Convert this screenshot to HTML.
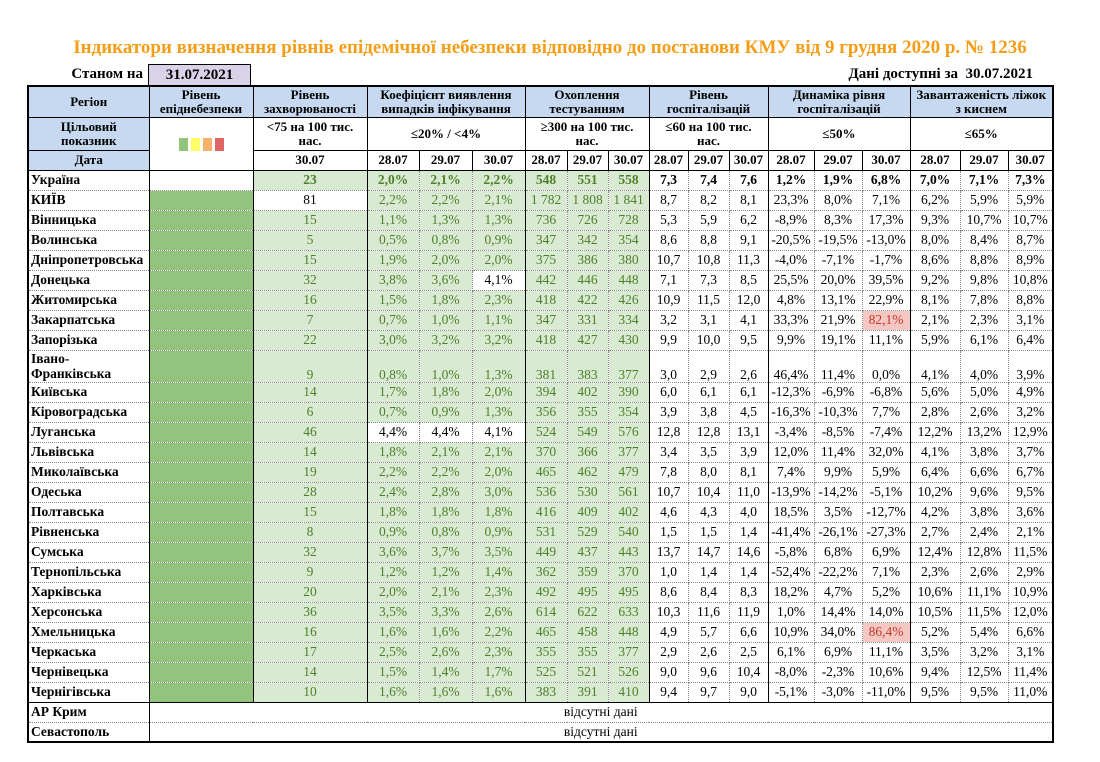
<!DOCTYPE html>
<html><head><meta charset="utf-8">
<style>
body{margin:0;background:#fff;width:1100px;height:762px;position:relative;overflow:hidden;font-family:"Liberation Serif",serif;}
.title{position:absolute;left:0;top:37px;width:1100px;text-align:center;color:#f59d17;font-weight:bold;font-size:19px;}
.st{position:absolute;left:30px;top:66px;width:113px;text-align:right;font-weight:bold;font-size:15px;}
.dt{position:absolute;left:148px;top:64px;width:103px;height:21px;background:#d9d2e9;border:1px solid #000;border-bottom:none;text-align:center;font-weight:bold;font-size:15px;line-height:21px;box-sizing:border-box;}
.av{position:absolute;right:67px;top:66px;font-weight:bold;font-size:15px;}
table{position:absolute;left:27px;top:85px;border-collapse:collapse;table-layout:fixed;border:2px solid #000;}
td{padding:0;font-size:13.5px;text-align:center;border:1px dotted #8a8a8a;white-space:nowrap;overflow:hidden;line-height:14px;}
.h td{font-weight:bold;font-size:13px;border:1px solid #000;line-height:14px;}
.b{background:#c6d9f0;}
.g{border-left:1px solid #000;}
.r td:first-child{text-align:left;font-weight:bold;padding-left:2px;}
.gr{background:#d9ead3;color:#4f7f2b;}
.lv{background:#93c47d;}
.rd{background:#f4c7c3;color:#c0392b;}
.w{background:#fff;color:#000;}
tr.r{height:20px;}
tr.u td{font-weight:bold;}
.sq{display:inline-block;width:9px;height:13px;margin:0 1.5px;vertical-align:middle;}
</style></head><body>
<div class="title">Індикатори визначення рівнів епідемічної небезпеки відповідно до постанови КМУ від 9 грудня 2020 р. № 1236</div>
<div class="st">Станом на</div>
<div class="dt">31.07.2021</div>
<div class="av">Дані доступні за &nbsp;30.07.2021</div>
<table>
<colgroup><col style="width:121px"><col style="width:104px"><col style="width:114px"><col style="width:52px"><col style="width:53px"><col style="width:53px"><col style="width:42px"><col style="width:41px"><col style="width:41px"><col style="width:39px"><col style="width:41px"><col style="width:39px"><col style="width:46px"><col style="width:48px"><col style="width:48px"><col style="width:50px"><col style="width:48px"><col style="width:45px"></colgroup>
<tr class="h" style="height:31px"><td class="b">Регіон</td><td class="b">Рівень<br>епіднебезпеки</td><td class="b">Рівень<br>захворюваності</td><td class="b" colspan="3">Коефіцієнт виявлення<br>випадків інфікування</td><td class="b" colspan="3">Охоплення<br>тестуванням</td><td class="b" colspan="3">Рівень<br>госпіталізацій</td><td class="b" colspan="3">Динаміка рівня<br>госпіталізацій</td><td class="b" colspan="3">Завантаженість ліжок<br>з киснем</td></tr>
<tr class="h" style="height:33px"><td class="b">Цільовий<br>показник</td><td rowspan="2"><span class="sq" style="background:#93c47d"></span><span class="sq" style="background:#ffff66"></span><span class="sq" style="background:#f6b26b"></span><span class="sq" style="background:#e06666"></span></td><td>&lt;75 на 100 тис.<br>нас.</td><td colspan="3">≤20% / &lt;4%</td><td colspan="3">≥300 на 100 тис.<br>нас.</td><td colspan="3">≤60 на 100 тис.<br>нас.</td><td colspan="3">≤50%</td><td colspan="3">≤65%</td></tr>
<tr class="h" style="height:20px"><td class="b">Дата</td><td>30.07</td><td>28.07</td><td>29.07</td><td>30.07</td><td>28.07</td><td>29.07</td><td>30.07</td><td>28.07</td><td>29.07</td><td>30.07</td><td>28.07</td><td>29.07</td><td>30.07</td><td>28.07</td><td>29.07</td><td>30.07</td></tr>
<tr class="r u"><td>Україна</td><td class="g"></td><td class="g gr">23</td><td class="g gr">2,0%</td><td class="gr">2,1%</td><td class="gr">2,2%</td><td class="g gr">548</td><td class="gr">551</td><td class="gr">558</td><td class="g">7,3</td><td>7,4</td><td>7,6</td><td class="g">1,2%</td><td>1,9%</td><td>6,8%</td><td class="g">7,0%</td><td>7,1%</td><td>7,3%</td></tr>
<tr class="r"><td>КИЇВ</td><td class="g lv"></td><td class="g w">81</td><td class="g gr">2,2%</td><td class="gr">2,2%</td><td class="gr">2,1%</td><td class="g gr">1 782</td><td class="gr">1 808</td><td class="gr">1 841</td><td class="g">8,7</td><td>8,2</td><td>8,1</td><td class="g">23,3%</td><td>8,0%</td><td>7,1%</td><td class="g">6,2%</td><td>5,9%</td><td>5,9%</td></tr>
<tr class="r"><td>Вінницька</td><td class="g lv"></td><td class="g gr">15</td><td class="g gr">1,1%</td><td class="gr">1,3%</td><td class="gr">1,3%</td><td class="g gr">736</td><td class="gr">726</td><td class="gr">728</td><td class="g">5,3</td><td>5,9</td><td>6,2</td><td class="g">-8,9%</td><td>8,3%</td><td>17,3%</td><td class="g">9,3%</td><td>10,7%</td><td>10,7%</td></tr>
<tr class="r"><td>Волинська</td><td class="g lv"></td><td class="g gr">5</td><td class="g gr">0,5%</td><td class="gr">0,8%</td><td class="gr">0,9%</td><td class="g gr">347</td><td class="gr">342</td><td class="gr">354</td><td class="g">8,6</td><td>8,8</td><td>9,1</td><td class="g">-20,5%</td><td>-19,5%</td><td>-13,0%</td><td class="g">8,0%</td><td>8,4%</td><td>8,7%</td></tr>
<tr class="r"><td>Дніпропетровська</td><td class="g lv"></td><td class="g gr">15</td><td class="g gr">1,9%</td><td class="gr">2,0%</td><td class="gr">2,0%</td><td class="g gr">375</td><td class="gr">386</td><td class="gr">380</td><td class="g">10,7</td><td>10,8</td><td>11,3</td><td class="g">-4,0%</td><td>-7,1%</td><td>-1,7%</td><td class="g">8,6%</td><td>8,8%</td><td>8,9%</td></tr>
<tr class="r"><td>Донецька</td><td class="g lv"></td><td class="g gr">32</td><td class="g gr">3,8%</td><td class="gr">3,6%</td><td class="w">4,1%</td><td class="g gr">442</td><td class="gr">446</td><td class="gr">448</td><td class="g">7,1</td><td>7,3</td><td>8,5</td><td class="g">25,5%</td><td>20,0%</td><td>39,5%</td><td class="g">9,2%</td><td>9,8%</td><td>10,8%</td></tr>
<tr class="r"><td>Житомирська</td><td class="g lv"></td><td class="g gr">16</td><td class="g gr">1,5%</td><td class="gr">1,8%</td><td class="gr">2,3%</td><td class="g gr">418</td><td class="gr">422</td><td class="gr">426</td><td class="g">10,9</td><td>11,5</td><td>12,0</td><td class="g">4,8%</td><td>13,1%</td><td>22,9%</td><td class="g">8,1%</td><td>7,8%</td><td>8,8%</td></tr>
<tr class="r"><td>Закарпатська</td><td class="g lv"></td><td class="g gr">7</td><td class="g gr">0,7%</td><td class="gr">1,0%</td><td class="gr">1,1%</td><td class="g gr">347</td><td class="gr">331</td><td class="gr">334</td><td class="g">3,2</td><td>3,1</td><td>4,1</td><td class="g">33,3%</td><td>21,9%</td><td class="rd">82,1%</td><td class="g">2,1%</td><td>2,3%</td><td>3,1%</td></tr>
<tr class="r"><td>Запорізька</td><td class="g lv"></td><td class="g gr">22</td><td class="g gr">3,0%</td><td class="gr">3,2%</td><td class="gr">3,2%</td><td class="g gr">418</td><td class="gr">427</td><td class="gr">430</td><td class="g">9,9</td><td>10,0</td><td>9,5</td><td class="g">9,9%</td><td>19,1%</td><td>11,1%</td><td class="g">5,9%</td><td>6,1%</td><td>6,4%</td></tr>
<tr class="r" style="height:29px;vertical-align:bottom"><td style="line-height:15px;padding-bottom:1px">Івано-<br>Франківська</td><td class="g lv"></td><td class="g gr">9</td><td class="g gr">0,8%</td><td class="gr">1,0%</td><td class="gr">1,3%</td><td class="g gr">381</td><td class="gr">383</td><td class="gr">377</td><td class="g">3,0</td><td>2,9</td><td>2,6</td><td class="g">46,4%</td><td>11,4%</td><td>0,0%</td><td class="g">4,1%</td><td>4,0%</td><td>3,9%</td></tr>
<tr class="r"><td>Київська</td><td class="g lv"></td><td class="g gr">14</td><td class="g gr">1,7%</td><td class="gr">1,8%</td><td class="gr">2,0%</td><td class="g gr">394</td><td class="gr">402</td><td class="gr">390</td><td class="g">6,0</td><td>6,1</td><td>6,1</td><td class="g">-12,3%</td><td>-6,9%</td><td>-6,8%</td><td class="g">5,6%</td><td>5,0%</td><td>4,9%</td></tr>
<tr class="r"><td>Кіровоградська</td><td class="g lv"></td><td class="g gr">6</td><td class="g gr">0,7%</td><td class="gr">0,9%</td><td class="gr">1,3%</td><td class="g gr">356</td><td class="gr">355</td><td class="gr">354</td><td class="g">3,9</td><td>3,8</td><td>4,5</td><td class="g">-16,3%</td><td>-10,3%</td><td>7,7%</td><td class="g">2,8%</td><td>2,6%</td><td>3,2%</td></tr>
<tr class="r"><td>Луганська</td><td class="g lv"></td><td class="g gr">46</td><td class="g w">4,4%</td><td class="w">4,4%</td><td class="w">4,1%</td><td class="g gr">524</td><td class="gr">549</td><td class="gr">576</td><td class="g">12,8</td><td>12,8</td><td>13,1</td><td class="g">-3,4%</td><td>-8,5%</td><td>-7,4%</td><td class="g">12,2%</td><td>13,2%</td><td>12,9%</td></tr>
<tr class="r"><td>Львівська</td><td class="g lv"></td><td class="g gr">14</td><td class="g gr">1,8%</td><td class="gr">2,1%</td><td class="gr">2,1%</td><td class="g gr">370</td><td class="gr">366</td><td class="gr">377</td><td class="g">3,4</td><td>3,5</td><td>3,9</td><td class="g">12,0%</td><td>11,4%</td><td>32,0%</td><td class="g">4,1%</td><td>3,8%</td><td>3,7%</td></tr>
<tr class="r"><td>Миколаївська</td><td class="g lv"></td><td class="g gr">19</td><td class="g gr">2,2%</td><td class="gr">2,2%</td><td class="gr">2,0%</td><td class="g gr">465</td><td class="gr">462</td><td class="gr">479</td><td class="g">7,8</td><td>8,0</td><td>8,1</td><td class="g">7,4%</td><td>9,9%</td><td>5,9%</td><td class="g">6,4%</td><td>6,6%</td><td>6,7%</td></tr>
<tr class="r"><td>Одеська</td><td class="g lv"></td><td class="g gr">28</td><td class="g gr">2,4%</td><td class="gr">2,8%</td><td class="gr">3,0%</td><td class="g gr">536</td><td class="gr">530</td><td class="gr">561</td><td class="g">10,7</td><td>10,4</td><td>11,0</td><td class="g">-13,9%</td><td>-14,2%</td><td>-5,1%</td><td class="g">10,2%</td><td>9,6%</td><td>9,5%</td></tr>
<tr class="r"><td>Полтавська</td><td class="g lv"></td><td class="g gr">15</td><td class="g gr">1,8%</td><td class="gr">1,8%</td><td class="gr">1,8%</td><td class="g gr">416</td><td class="gr">409</td><td class="gr">402</td><td class="g">4,6</td><td>4,3</td><td>4,0</td><td class="g">18,5%</td><td>3,5%</td><td>-12,7%</td><td class="g">4,2%</td><td>3,8%</td><td>3,6%</td></tr>
<tr class="r"><td>Рівненська</td><td class="g lv"></td><td class="g gr">8</td><td class="g gr">0,9%</td><td class="gr">0,8%</td><td class="gr">0,9%</td><td class="g gr">531</td><td class="gr">529</td><td class="gr">540</td><td class="g">1,5</td><td>1,5</td><td>1,4</td><td class="g">-41,4%</td><td>-26,1%</td><td>-27,3%</td><td class="g">2,7%</td><td>2,4%</td><td>2,1%</td></tr>
<tr class="r"><td>Сумська</td><td class="g lv"></td><td class="g gr">32</td><td class="g gr">3,6%</td><td class="gr">3,7%</td><td class="gr">3,5%</td><td class="g gr">449</td><td class="gr">437</td><td class="gr">443</td><td class="g">13,7</td><td>14,7</td><td>14,6</td><td class="g">-5,8%</td><td>6,8%</td><td>6,9%</td><td class="g">12,4%</td><td>12,8%</td><td>11,5%</td></tr>
<tr class="r"><td>Тернопільська</td><td class="g lv"></td><td class="g gr">9</td><td class="g gr">1,2%</td><td class="gr">1,2%</td><td class="gr">1,4%</td><td class="g gr">362</td><td class="gr">359</td><td class="gr">370</td><td class="g">1,0</td><td>1,4</td><td>1,4</td><td class="g">-52,4%</td><td>-22,2%</td><td>7,1%</td><td class="g">2,3%</td><td>2,6%</td><td>2,9%</td></tr>
<tr class="r"><td>Харківська</td><td class="g lv"></td><td class="g gr">20</td><td class="g gr">2,0%</td><td class="gr">2,1%</td><td class="gr">2,3%</td><td class="g gr">492</td><td class="gr">495</td><td class="gr">495</td><td class="g">8,6</td><td>8,4</td><td>8,3</td><td class="g">18,2%</td><td>4,7%</td><td>5,2%</td><td class="g">10,6%</td><td>11,1%</td><td>10,9%</td></tr>
<tr class="r"><td>Херсонська</td><td class="g lv"></td><td class="g gr">36</td><td class="g gr">3,5%</td><td class="gr">3,3%</td><td class="gr">2,6%</td><td class="g gr">614</td><td class="gr">622</td><td class="gr">633</td><td class="g">10,3</td><td>11,6</td><td>11,9</td><td class="g">1,0%</td><td>14,4%</td><td>14,0%</td><td class="g">10,5%</td><td>11,5%</td><td>12,0%</td></tr>
<tr class="r"><td>Хмельницька</td><td class="g lv"></td><td class="g gr">16</td><td class="g gr">1,6%</td><td class="gr">1,6%</td><td class="gr">2,2%</td><td class="g gr">465</td><td class="gr">458</td><td class="gr">448</td><td class="g">4,9</td><td>5,7</td><td>6,6</td><td class="g">10,9%</td><td>34,0%</td><td class="rd">86,4%</td><td class="g">5,2%</td><td>5,4%</td><td>6,6%</td></tr>
<tr class="r"><td>Черкаська</td><td class="g lv"></td><td class="g gr">17</td><td class="g gr">2,5%</td><td class="gr">2,6%</td><td class="gr">2,3%</td><td class="g gr">355</td><td class="gr">355</td><td class="gr">377</td><td class="g">2,9</td><td>2,6</td><td>2,5</td><td class="g">6,1%</td><td>6,9%</td><td>11,1%</td><td class="g">3,5%</td><td>3,2%</td><td>3,1%</td></tr>
<tr class="r"><td>Чернівецька</td><td class="g lv"></td><td class="g gr">14</td><td class="g gr">1,5%</td><td class="gr">1,4%</td><td class="gr">1,7%</td><td class="g gr">525</td><td class="gr">521</td><td class="gr">526</td><td class="g">9,0</td><td>9,6</td><td>10,4</td><td class="g">-8,0%</td><td>-2,3%</td><td>10,6%</td><td class="g">9,4%</td><td>12,5%</td><td>11,4%</td></tr>
<tr class="r"><td>Чернігівська</td><td class="g lv"></td><td class="g gr">10</td><td class="g gr">1,6%</td><td class="gr">1,6%</td><td class="gr">1,6%</td><td class="g gr">383</td><td class="gr">391</td><td class="gr">410</td><td class="g">9,4</td><td>9,7</td><td>9,0</td><td class="g">-5,1%</td><td>-3,0%</td><td>-11,0%</td><td class="g">9,5%</td><td>9,5%</td><td>11,0%</td></tr>
<tr class="r" style="border-top:1px solid #000"><td>АР Крим</td><td class="g" colspan="17">відсутні дані</td></tr>
<tr class="r"><td>Севастополь</td><td class="g" colspan="17">відсутні дані</td></tr>
</table>
</body></html>
